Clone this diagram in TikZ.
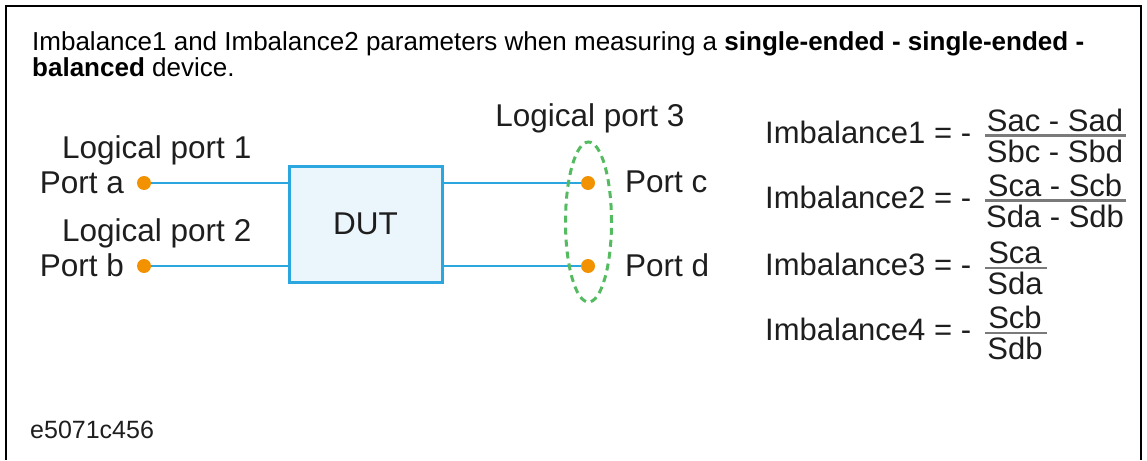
\documentclass[tikz,border=0pt]{standalone}
\usepackage{fontspec}
\setmainfont{Liberation Sans}
\usetikzlibrary{shapes.geometric}
\definecolor{wireblue}{HTML}{2BA6DE}
\definecolor{boxfill}{HTML}{EBF5FC}
\definecolor{dotorange}{HTML}{F39200}
\definecolor{dashgreen}{HTML}{55BB60}
\definecolor{txt}{HTML}{1E1E1E}
\definecolor{rulegray}{HTML}{7A7A7A}
\tikzset{
  frameline/.style={line width=1.8pt, black},
  title/.style={anchor=base west, inner sep=0pt, font=\fontsize{26}{30}\selectfont, text=black},
  lbl/.style={inner sep=0pt, font=\fontsize{31.5}{36}\selectfont, text=txt},
  wire/.style={wireblue, line width=2.2pt},
  dutbox/.style={draw=wireblue, fill=boxfill, line width=3pt, minimum width=153pt, minimum height=116pt, inner sep=0pt, font=\fontsize{31.5}{36}\selectfont, text=txt},
  portdot/.style={circle, fill=dotorange, minimum size=14pt, inner sep=0pt},
  grp/.style={ellipse, draw=dashgreen, dash pattern=on 7pt off 5pt, line width=3pt, minimum width=46pt, minimum height=160pt, inner sep=0pt},
  eqn/.style={anchor=base west, inner sep=0pt, font=\fontsize{31}{36}\selectfont, text=txt},
  fracpart/.style={anchor=base, inner sep=0pt, font=\fontsize{31}{36}\selectfont, text=txt},
  fracrule/.style={rulegray, line width=2.2pt},
  code/.style={anchor=base west, inner sep=0pt, font=\fontsize{25}{30}\selectfont, text=txt}
}
\begin{document}
\begin{tikzpicture}[x=1pt,y=-1pt]
\useasboundingbox (0,0) rectangle (1147,460);
% frame
\draw[frameline] (6,460) -- (6,6) -- (1141,6) -- (1141,460);
% title
\node[title] (t1) at (32,50) {Imbalance1 and Imbalance2 parameters when measuring a \textbf{single-ended - single-ended -}};
\node[title] (t2) at (32,77) {\textbf{balanced} device.};
% DUT
\node[dutbox] (dut) at (365.5,224) {DUT};
% wire end coordinates
\coordinate (ca) at (144,183);
\coordinate (cb) at (144,266);
\coordinate (cc) at (588,183);
\coordinate (cdd) at (588,266);
\draw[wire] (ca) -- (ca -| dut.west);
\draw[wire] (cb) -- (cb -| dut.west);
\draw[wire] (cc -| dut.east) -- (cc);
\draw[wire] (cdd -| dut.east) -- (cdd);
\node[grp] (lp3) at (588.5,222) {};
\node[portdot] (pa) at (ca) {};
\node[portdot] (pb) at (cb) {};
\node[portdot] (pc) at (cc) {};
\node[portdot] (pd) at (cdd) {};
% labels
\node[lbl, anchor=base west] (lp1) at (62,158) {Logical port 1};
\node[lbl, anchor=base east] (la) at (124,193) {Port a};
\node[lbl, anchor=base west] (lp2) at (62,241) {Logical port 2};
\node[lbl, anchor=base east] (lb) at (124,276) {Port b};
\node[lbl, anchor=base] (lp3t) at (590,126) {Logical port 3};
\node[lbl, anchor=base west] (lc) at (625,192) {Port c};
\node[lbl, anchor=base west] (ld) at (625,276) {Port d};
% equation 1
\node[eqn] (e1) at (765,143) {Imbalance1 = -};
\node[fracpart] (n1) at (1055,131) {Sac - Sad};
\node[fracpart] (d1) at (1055,162) {Sbc - Sbd};
\draw[fracrule] (985,135.5) -- (1126,135.5);
% equation 2
\node[eqn] (e2) at (765,208) {Imbalance2 = -};
\node[fracpart] (n2) at (1055,196) {Sca - Scb};
\node[fracpart] (d2) at (1055,227) {Sda - Sdb};
\draw[fracrule] (985,200.5) -- (1126,200.5);
% equation 3
\node[eqn] (e3) at (765,275) {Imbalance3 = -};
\node[fracpart] (n3) at (1015,263) {Sca};
\node[fracpart] (d3) at (1015,294) {Sda};
\draw[fracrule] (985,268) -- (1047,268);
% equation 4
\node[eqn] (e4) at (765,340) {Imbalance4 = -};
\node[fracpart] (n4) at (1015,328) {Scb};
\node[fracpart] (d4) at (1015,359) {Sdb};
\draw[fracrule] (985,333) -- (1047,333);
% code
\node[code] (cd) at (30,438) {e5071c456};
\end{tikzpicture}
\end{document}
